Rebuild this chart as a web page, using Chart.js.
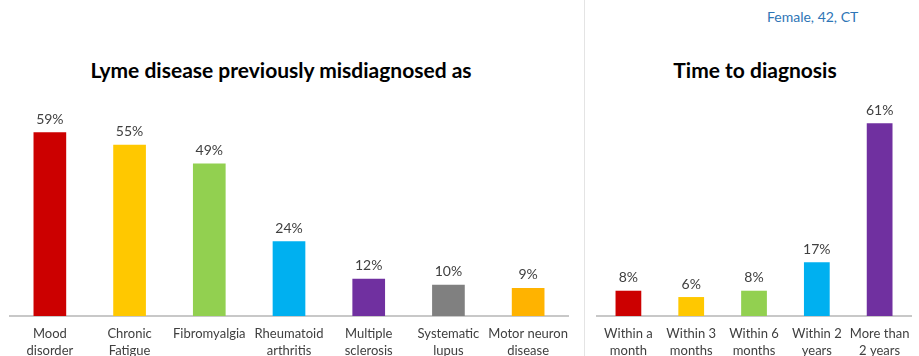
<!DOCTYPE html>
<html>
<head>
<meta charset="utf-8">
<script src="https://cdn.jsdelivr.net/npm/chart.js@4/dist/chart.umd.min.js"></script>
<style>
  html, body { margin: 0; padding: 0; background: #fff; width: 919px; height: 356px; overflow: hidden; }
  #left { position: absolute; left: 0; top: 0; width: 580px; height: 370px; }
  #right { position: absolute; left: 590px; top: 0; width: 329px; height: 370px; }
  #divider { position: absolute; left: 584px; top: 0; width: 1px; height: 356px; background: #e4e4e4; }
  #note { position: absolute; left: 767px; top: 8px; font-family: Lato, "Open Sans", sans-serif; font-size: 14px; color: #2E75B6; white-space: nowrap; }
  .title { position: absolute; top: 57px; transform: translateX(-50%); font-family: Lato, "Open Sans", sans-serif; font-size: 21px; font-weight: bold; color: #000; white-space: nowrap; line-height: 26px; }
  #t1 { left: 281px; }
  #t2 { left: 755px; }
</style>
</head>
<body>
<div id="divider"></div>
<div id="note">Female, 42, CT</div>
<div class="title" id="t1">Lyme disease previously misdiagnosed as</div>
<div class="title" id="t2">Time to diagnosis</div>
<div id="left"><canvas id="c1"></canvas></div>
<div id="right"><canvas id="c2"></canvas></div>
<script>
const misdiagnosisLabels = [
  ["Mood", "disorder"], ["Chronic", "Fatigue"], ["Fibromyalgia"], ["Rheumatoid", "arthritis"],
  ["Multiple", "sclerosis"], ["Systematic", "lupus"], ["Motor neuron", "disease"]
];
const misdiagnosisValues = [59, 55, 49, 24, 12, 10, 9];
const misdiagnosisColors = ["#CC0000", "#FFC800", "#92D050", "#00B0F0", "#7030A0", "#808080", "#FFB300"];

const timeLabels = [
  ["Within a", "month"], ["Within 3", "months"], ["Within 6", "months"], ["Within 2", "years"], ["More than", "2 years"]
];
const timeValues = [8, 6, 8, 17, 61];
const timeColors = ["#CC0000", "#FFC800", "#92D050", "#00B0F0", "#7030A0"];

const FONT = "Lato, 'Open Sans', sans-serif";

const valueLabels = {
  id: "valueLabels",
  afterDatasetsDraw(chart) {
    const ctx = chart.ctx;
    const meta = chart.getDatasetMeta(0);
    const data = chart.data.datasets[0].data;
    ctx.save();
    ctx.font = "14px " + FONT;
    ctx.fillStyle = "#404040";
    ctx.textAlign = "center";
    ctx.textBaseline = "bottom";
    meta.data.forEach((bar, i) => {
      ctx.fillText(data[i] + "%", bar.x, bar.y - 6);
    });
    ctx.restore();
  }
};

function makeChart(id, labels, values, colors, yMax, pad) {
  return new Chart(document.getElementById(id), {
    type: "bar",
    data: {
      labels: labels,
      datasets: [{
        data: values,
        backgroundColor: colors,
        borderWidth: 0,
        categoryPercentage: 0.41,
        barPercentage: 1.0
      }]
    },
    options: {
      responsive: true,
      maintainAspectRatio: false,
      animation: false,
      layout: { padding: { left: pad.left, right: pad.right, top: 98, bottom: 0 } },
      plugins: {
        legend: { display: false },
        tooltip: { enabled: false },
        title: { display: false }
      },
      scales: {
        x: {
          grid: { display: false, drawTicks: false },
          border: { display: true, color: "#c8c8c8", width: 2 },
          ticks: {
            color: "#404040",
            font: { family: FONT, size: 13, lineHeight: 1.3 },
            padding: 9,
            maxRotation: 0,
            autoSkip: false
          },
          afterFit(scale) { scale.height = 54; }
        },
        y: {
          display: false,
          min: 0,
          max: yMax
        }
      }
    },
    plugins: [valueLabels]
  });
}

makeChart("c1", misdiagnosisLabels, misdiagnosisValues, misdiagnosisColors, 70, { left: 10, right: 12 });
makeChart("c2", timeLabels, timeValues, timeColors, 69, { left: 7, right: 6 });
</script>
</body>
</html>
